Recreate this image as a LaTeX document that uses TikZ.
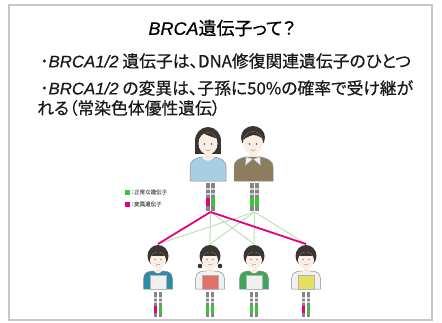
\documentclass[tikz,border=0pt]{standalone}
\usepackage{fontspec}
\setmainfont{Noto Sans CJK JP}[FakeBold=0.4, RawFeature=+palt]
\newfontfamily\arialfont{Liberation Sans}[FakeBold=0.4]
\usetikzlibrary{positioning}
\definecolor{mutant}{HTML}{E4007F}
\definecolor{normal}{HTML}{35C935}
\definecolor{normalline}{HTML}{B9DFB3}
\definecolor{hair}{HTML}{3A3533}
\definecolor{skin}{HTML}{FCEEE4}
\definecolor{shirtwhite}{HTML}{F0F0F0}
\definecolor{momblue}{HTML}{A9CDE4}
\definecolor{dadbrown}{HTML}{8C7D5E}
\definecolor{kidteal}{HTML}{2E8BA8}
\definecolor{kidred}{HTML}{E0706A}
\definecolor{kidgreen}{HTML}{3FA55A}
\definecolor{kidyellow}{HTML}{E6E060}
\tikzset{
  frame/.style={draw=black!22, line width=1.3pt},
  headline/.style={font=\fontsize{18}{18}\selectfont, inner sep=0pt},
  bullet/.style={font=\fontsize{16.8}{17}\selectfont, inner sep=0pt, anchor=west, text=black!90},
  legbox/.style={minimum size=5pt, inner sep=0pt},
  legend/.style={font=\fontsize{5.5}{6}\selectfont, text=black!55, inner sep=0pt},
  outline/.style={draw=black!45, line width=0.5pt},
  inherit/.style={draw=mutant, line width=1.8pt},
  pass/.style={draw=normalline, line width=0.9pt},
}
% pair of chromosomes: centre x, top y, length, left band, right band
\newcommand{\chrpair}[5]{%
  \foreach \dx/\col in {-2.6/#4, 2.6/#5} {
    \fill[black!48] ({#1+\dx-1.7},#2) rectangle ++(3.4,#3);
    \fill[black!18] ({#1+\dx-1.7},{#2+0.18*#3}) rectangle ++(3.4,{0.08*#3});
    \fill[black!18] ({#1+\dx-1.7},{#2+0.36*#3}) rectangle ++(3.4,{0.08*#3});
    \fill[\col] ({#1+\dx-1.7},{#2+0.55*#3}) rectangle ++(3.4,{0.27*#3});
  }
}

\begin{document}
\begin{tikzpicture}[x=1pt,y=-1pt]
  \useasboundingbox (0,0) rectangle (442,322);
  \fill[white] (0,0) rectangle (442,322);
  \draw[frame] (9,5) rectangle (432,320);

  \node[headline] (title) at (222,28) {{\arialfont\itshape BRCA}遺伝子って？};
  \node[bullet] (pt1) at (40,61) {･{\arialfont\itshape BRCA1/2} 遺伝子は、DNA修復関連遺伝子のひとつ};
  \node[bullet] (pt2) at (40,88) {･{\arialfont\itshape BRCA1/2} の変異は、子孫に50\%の確率で受け継が};
  \node[bullet] (pt3) at (37,108) {れる（常染色体優性遺伝）};

  % legend
  \node[legbox, fill=normal] (sq1) at (127,192) {};
  \node[legend, right=1.5pt of sq1] (leg1) {：正常な遺伝子};
  \node[legbox, fill=mutant] (sq2) at (127,204) {};
  \node[legend, right=1.5pt of sq2] (leg2) {：変異遺伝子};

  \coordinate (momchr) at (210.5,212);
  \coordinate (dadchr) at (254.5,212);
  \foreach \cx [count=\i] in {158,210,254,306}
    \coordinate (kid\i) at (\cx,244);

  \foreach \k in {1,...,4}
    \draw[pass] (dadchr) -- (kid\k);
  \draw[pass] (momchr) -- (kid2) (momchr) -- (kid3);
  \draw[inherit] (momchr) -- (kid1) (momchr) -- (kid4);

  % mother
  \fill[hair] (208,141) ellipse [x radius=13, y radius=14];
  \fill[hair] (195,141) rectangle (221,154);
  \fill[skin] (204.5,153) rectangle (211.5,160);
  \filldraw[outline, fill=momblue] (190,181) -- (190,167) .. controls (190,160) and (196,158) .. (202,157)
    -- (214,157) .. controls (220,158) and (226,160) .. (226,167) -- (226,181) -- cycle;
  \fill[skin] (202,157) .. controls (205,162) and (211,162) .. (214,157) -- cycle;
  \begin{scope}
    \clip (208,143.5) ellipse [x radius=9.5, y radius=11];
    \fill[skin] (198,130) rectangle (218,156);
    \fill[hair] (198,130) -- (218,130) -- (218,139) .. controls (212,137) and (206,135) .. (203,133) -- (198,140) -- cycle;
  \end{scope}
  \fill[black!70] (204.5,144) circle (0.8) (211.5,144) circle (0.8);
  \draw[black!45, line width=0.4pt] (205.5,149.5) .. controls (208,151.5) .. (210.5,149.5);

  % father
  \fill[hair] (253,137.5) ellipse [x radius=12, y radius=11.5];
  \fill[skin] (249,152) rectangle (257,160);
  \filldraw[outline, fill=dadbrown] (234,181) -- (234,167) .. controls (234,160) and (240,158) .. (246,157)
    -- (260,157) .. controls (266,158) and (273,160) .. (273,167) -- (273,181) -- cycle;
  \filldraw[outline, fill=shirtwhite] (253,159) -- (246,156.5) -- (245,166) -- cycle;
  \filldraw[outline, fill=shirtwhite] (253,159) -- (260,156.5) -- (261,166) -- cycle;
  \begin{scope}
    \clip (253,143) ellipse [x radius=10, y radius=11.5];
    \fill[skin] (242,130) rectangle (264,156);
    \fill[hair] (242,130) -- (264,130) -- (264,140) .. controls (259,135) and (253,134) .. (250,136)
      .. controls (247,137) and (244,139) .. (242,141) -- cycle;
  \end{scope}
  \fill[black!70] (249.5,144) circle (0.8) (256.5,144) circle (0.8);
  \draw[black!45, line width=0.4pt] (250.5,149.5) .. controls (253,151.5) .. (255.5,149.5);

  \chrpair{210.5}{183}{28}{mutant}{normal}
  \chrpair{254.5}{183}{28}{normal}{normal}

  % children
  \foreach \cx/\sleeve/\front/\band in {158/kidteal/shirtwhite/mutant, 210/shirtwhite/kidred/normal,
                                         254/kidgreen/shirtwhite/normal, 306/shirtwhite/kidyellow/mutant} {
    \fill[hair] (\cx,256) ellipse [x radius=10.5, y radius=11];
    \fill[skin] (\cx-2.5,267) rectangle (\cx+2.5,272);
    \filldraw[outline, fill=\sleeve] (\cx-14.5,289) -- (\cx-14.5,279) .. controls (\cx-14.5,273) and (\cx-10,271) .. (\cx-5,271)
      -- (\cx+5,271) .. controls (\cx+10,271) and (\cx+14.5,273) .. (\cx+14.5,279) -- (\cx+14.5,289) -- cycle;
    \filldraw[draw=black!30, line width=0.4pt, fill=\front] (\cx-8,275) rectangle (\cx+8,289);
    \fill[skin] (\cx-4,271) .. controls (\cx-2,274) and (\cx+2,274) .. (\cx+4,271) -- cycle;
    \begin{scope}
      \clip (\cx,260.5) ellipse [x radius=8, y radius=8.5];
      \fill[skin] (\cx-9,251) rectangle (\cx+9,270);
      \fill[hair] (\cx-9,251) rectangle (\cx+9,256);
    \end{scope}
    \fill[black!70] (\cx-3,259.5) circle (0.7) (\cx+3,259.5) circle (0.7);
    \draw[black!45, line width=0.4pt] (\cx-2,264) .. controls (\cx,265.5) .. (\cx+2,264);
    \chrpair{\cx}{292}{25}{\band}{normal}
  }
  \fill[hair] (200,266) circle (2.3) (220,266) circle (2.3); % pigtails
\end{tikzpicture}
\end{document}
